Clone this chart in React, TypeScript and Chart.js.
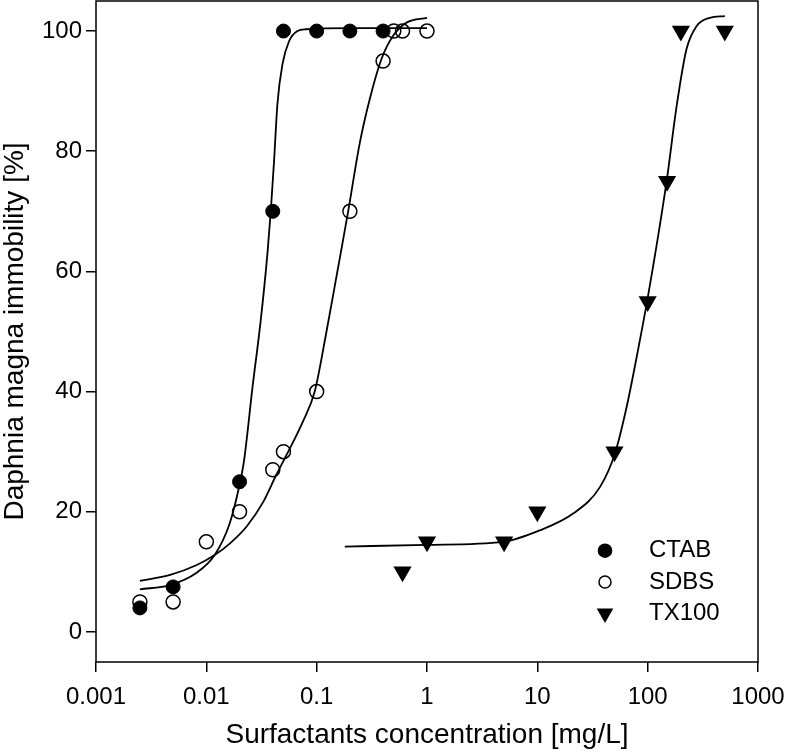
import React, { useEffect, useRef } from 'react';
import { Chart, registerables } from 'chart.js';

Chart.register(...registerables);

// Measured data (x: mg/L, y: % immobility)
const CTAB_X = [0.0025, 0.005, 0.02, 0.04, 0.05, 0.1, 0.2, 0.4];
const CTAB_Y = [4, 7.5, 25, 70, 100, 100, 100, 100];

const SDBS_X = [0.0025, 0.005, 0.01, 0.02, 0.04, 0.05, 0.1, 0.2, 0.4, 0.5, 0.6, 1];
const SDBS_Y = [5, 5, 15, 20, 27, 30, 40, 70, 95, 100, 100, 100];

const TX100_X = [0.6, 1, 5, 10, 50, 100, 150, 200, 500];
const TX100_Y = [10, 15, 15, 20, 30, 55, 75, 100, 100];

// Fitted curves
const CTAB_FIT_X = [0.0025, 0.0047, 0.0081, 0.0119, 0.0163, 0.02, 0.022, 0.0262, 0.0311, 0.0358, 0.0384, 0.0411, 0.0441, 0.049, 0.0562, 0.067, 0.08, 0.2, 1.0];
const CTAB_FIT_Y = [7.1, 7.8, 9.8, 12.8, 18.1, 24.5, 28.6, 40.7, 51.8, 63.0, 70.1, 78.4, 87.9, 94.5, 98.3, 100.0, 100.3, 100.5, 100.5];

const SDBS_FIT_X = [0.0025, 0.0047, 0.0081, 0.0119, 0.0163, 0.0231, 0.0327, 0.0432, 0.057, 0.075, 0.096, 0.12, 0.15, 0.193, 0.246, 0.303, 0.386, 0.493, 0.652, 1.0];
const SDBS_FIT_Y = [8.5, 9.5, 11.1, 12.8, 14.7, 17.5, 21.6, 26.2, 30.5, 35.0, 40.0, 49.0, 58.8, 70.0, 81.4, 88.7, 95.3, 99.2, 101.4, 102.2];

const TX100_FIT_X = [0.18, 1.0, 4.9, 10.5, 21.1, 36.9, 50.5, 64.4, 79.4, 101, 148, 183, 225, 277, 366, 501];
const TX100_FIT_Y = [14.2, 14.5, 15.0, 16.9, 19.7, 24.1, 29.7, 37.4, 45.7, 56, 74.8, 87.5, 97, 100.8, 102.2, 102.5];

// Axes
const X_TICKS = [0.001, 0.01, 0.1, 1, 10, 100, 1000];
const X_TICK_LABELS = ['0.001', '0.01', '0.1', '1', '10', '100', '1000'];
const Y_TICKS = [0, 20, 40, 60, 80, 100];
const Y_TICK_LABELS = ['0', '20', '40', '60', '80', '100'];

const LEGEND_LABELS = ['CTAB', 'SDBS', 'TX100'];
const X_TITLE = 'Surfactants concentration [mg/L]';
const Y_TITLE = 'Daphnia magna immobility [%]';

const FONT = '"Liberation Sans", Arial, Helvetica, sans-serif';

const pts = (xs: number[], ys: number[]) => xs.map((x, i) => ({ x, y: ys[i] }));

const framePlugin = {
  id: 'frame',
  afterDatasetsDraw(chart: any) {
    const { ctx, chartArea } = chart;
    const { left, top, right, bottom } = chartArea;
    ctx.save();
    ctx.strokeStyle = '#000';
    ctx.lineWidth = 1.5;
    ctx.strokeRect(left, top, right - left, bottom - top);
    ctx.restore();
  },
};

const legendPlugin = {
  id: 'innerLegend',
  afterDatasetsDraw(chart: any) {
    const { ctx, chartArea } = chart;
    const mx = chartArea.right - 153;
    const tx = chartArea.right - 109;
    const y0 = chartArea.bottom - 111.3;
    const dy = 31.3;
    ctx.save();
    LEGEND_LABELS.forEach((label, i) => {
      const y = y0 + i * dy;
      ctx.fillStyle = '#000';
      ctx.strokeStyle = '#000';
      if (i === 0) {
        ctx.beginPath();
        ctx.arc(mx, y, 7.3, 0, Math.PI * 2);
        ctx.fill();
      } else if (i === 1) {
        ctx.beginPath();
        ctx.lineWidth = 1.5;
        ctx.arc(mx, y, 6, 0, Math.PI * 2);
        ctx.stroke();
      } else {
        const r = 9.6;
        ctx.beginPath();
        ctx.moveTo(mx, y + r);
        ctx.lineTo(mx - r * Math.sin(Math.PI / 3), y - r / 2);
        ctx.lineTo(mx + r * Math.sin(Math.PI / 3), y - r / 2);
        ctx.closePath();
        ctx.fill();
      }
      ctx.font = `24px ${FONT}`;
      ctx.textAlign = 'left';
      ctx.textBaseline = 'middle';
      ctx.fillText(label, tx, y);
    });
    ctx.restore();
  },
};

export default function App() {
  const canvasRef = useRef<HTMLCanvasElement | null>(null);

  useEffect(() => {
    const canvas = canvasRef.current;
    if (!canvas) return;

    const pointSet = (label: string, data: any[], style: string, radius: number, fill: string, bw: number, rot = 0) => ({
      label,
      data,
      showLine: false,
      pointStyle: style,
      pointRadius: radius,
      pointHoverRadius: radius,
      pointRotation: rot,
      pointBackgroundColor: fill,
      pointBorderColor: '#000',
      pointBorderWidth: bw,
      backgroundColor: fill,
      borderColor: '#000',
    });

    const fitSet = (label: string, data: any[]) => ({
      label,
      data,
      showLine: true,
      pointRadius: 0,
      pointHoverRadius: 0,
      borderColor: '#000',
      borderWidth: 1.8,
      fill: false,
      cubicInterpolationMode: 'monotone',
    });

    const chart = new Chart(canvas, {
      type: 'scatter',
      data: {
        datasets: [
          pointSet('CTAB', pts(CTAB_X, CTAB_Y), 'circle', 7, '#000', 1),
          pointSet('SDBS', pts(SDBS_X, SDBS_Y), 'circle', 7, 'rgba(0,0,0,0)', 1.5),
          pointSet('TX100', pts(TX100_X, TX100_Y), 'triangle', 10.5, '#000', 0, 180),
          fitSet('CTAB fit', pts(CTAB_FIT_X, CTAB_FIT_Y)),
          fitSet('SDBS fit', pts(SDBS_FIT_X, SDBS_FIT_Y)),
          fitSet('TX100 fit', pts(TX100_FIT_X, TX100_FIT_Y)),
        ] as any,
      },
      options: {
        responsive: false,
        maintainAspectRatio: false,
        devicePixelRatio: 1,
        animation: false,
        layout: { autoPadding: false, padding: { left: 0, top: 1, right: 28, bottom: 0 } },
        plugins: {
          legend: { display: false },
          tooltip: { enabled: false },
        },
        scales: {
          x: {
            type: 'logarithmic',
            min: 0.001,
            max: 1000,
            afterBuildTicks: (scale: any) => {
              scale.ticks = X_TICKS.map((v) => ({ value: v }));
            },
            afterFit: (scale: any) => {
              scale.height = 90;
              scale.paddingLeft = 0;
              scale.paddingRight = 0;
            },
            ticks: {
              autoSkip: false,
              maxRotation: 0,
              minRotation: 0,
              padding: 11,
              color: '#000',
              font: { family: FONT, size: 24 },
              callback: (_v: any, i: number) => X_TICK_LABELS[i],
            },
            grid: {
              display: true,
              drawOnChartArea: false,
              drawTicks: true,
              tickLength: 10,
              color: '#000',
              lineWidth: 1.5,
            },
            border: { display: false },
            title: {
              display: true,
              text: X_TITLE,
              color: '#000',
              font: { family: FONT, size: 28, lineHeight: 1.1 },
              padding: { top: 0, bottom: 1.5 },
            },
          },
          y: {
            type: 'linear',
            min: -5,
            max: 105,
            afterBuildTicks: (scale: any) => {
              scale.ticks = Y_TICKS.map((v) => ({ value: v }));
            },
            afterFit: (scale: any) => {
              scale.width = 96;
              scale.paddingTop = 0;
              scale.paddingBottom = 0;
            },
            ticks: {
              autoSkip: false,
              padding: 4,
              color: '#000',
              font: { family: FONT, size: 24 },
              callback: (_v: any, i: number) => Y_TICK_LABELS[i],
            },
            grid: {
              display: true,
              drawOnChartArea: false,
              drawTicks: true,
              tickLength: 10,
              color: '#000',
              lineWidth: 1.5,
            },
            border: { display: false },
            title: {
              display: true,
              text: Y_TITLE,
              color: '#000',
              font: { family: FONT, size: 28, lineHeight: 1.1 },
              padding: { top: 0, bottom: 0 },
            },
          },
        },
      } as any,
      plugins: [framePlugin, legendPlugin],
    });

    return () => chart.destroy();
  }, []);

  return (
    <div style={{ position: 'absolute', left: 0, top: 0, width: 786, height: 752, background: '#fff' }}>
      <canvas ref={canvasRef} width={786} height={752} style={{ display: 'block', width: 786, height: 752 }} />
    </div>
  );
}
